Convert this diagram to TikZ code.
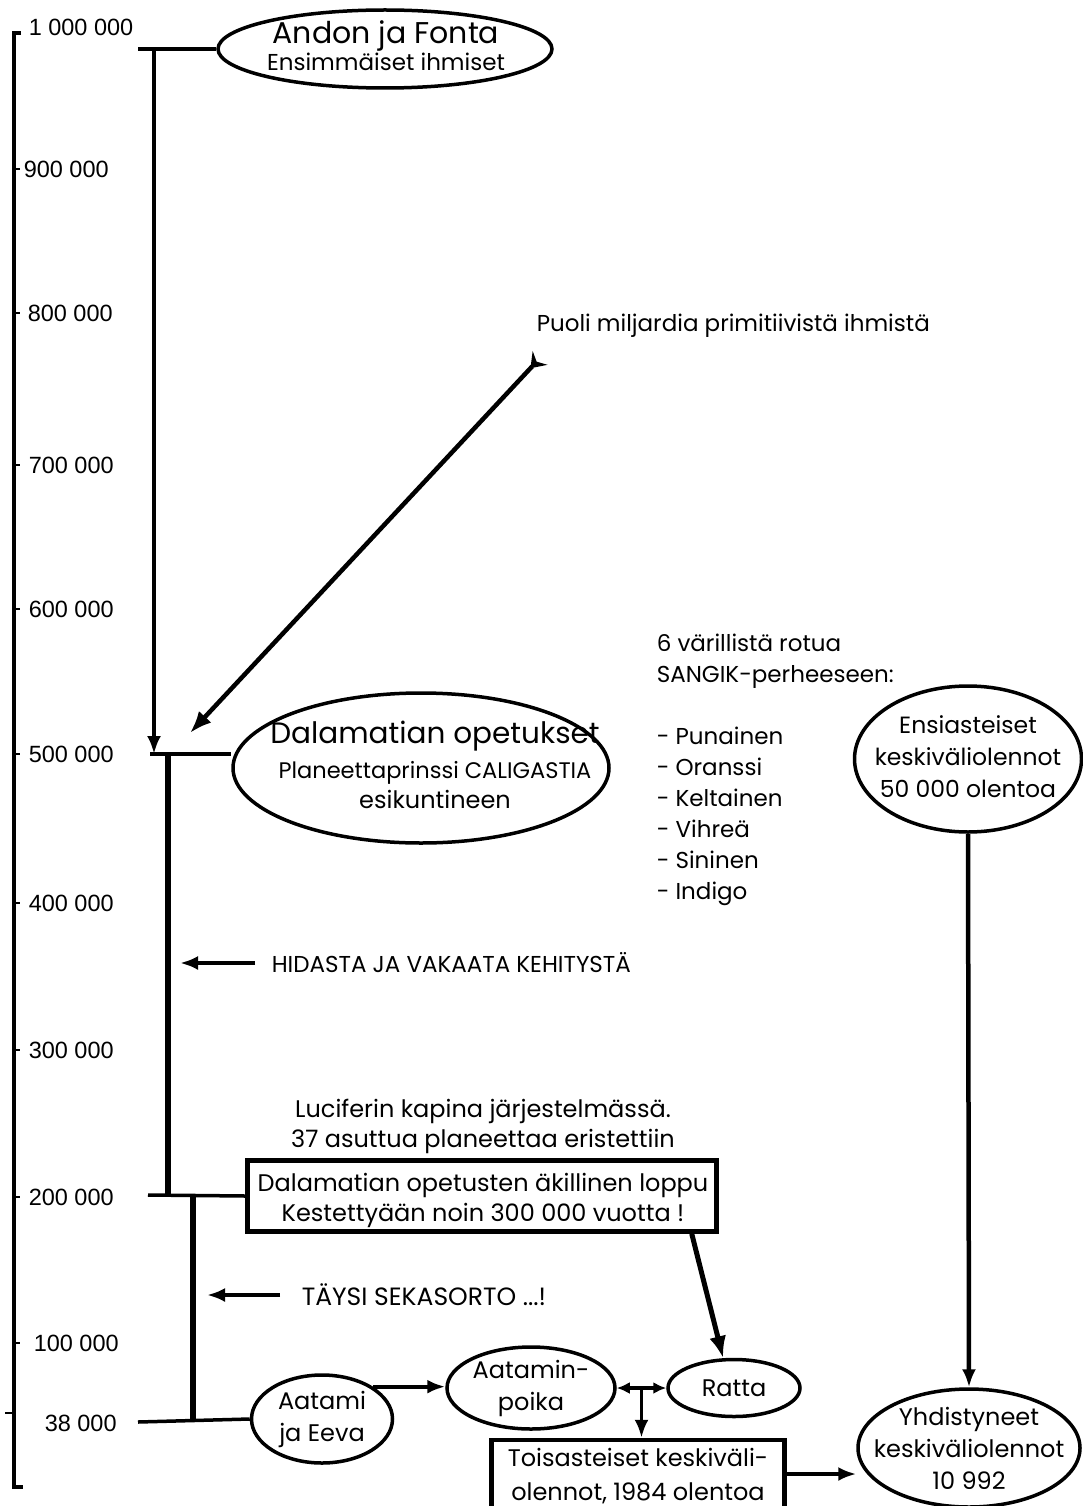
\documentclass[tikz,border=0pt]{standalone}
\usepackage{fontspec}
\setmainfont{Poppins}
\newfontfamily\axisfont{Liberation Sans}
\usetikzlibrary{shapes.geometric}
\usetikzlibrary{arrows.meta}
\tikzstyle{oval} = [ellipse, draw, line width=3.5pt, inner sep=0pt]
\tikzstyle{box} = [rectangle, draw, line width=4.5pt, inner sep=0pt]
\tikzstyle{txt} = [inner sep=0pt, text centered, align=center, font=\fontsize{24}{32}\selectfont]
\tikzstyle{list} = [inner sep=0pt, anchor=west, align=left, font=\fontsize{23}{31}\selectfont]
\tikzstyle{year} = [inner sep=0pt, anchor=west, font=\axisfont\fontsize{23.5}{24}\selectfont]
\tikzstyle{tip} = [-{Latex[length=18pt,width=14pt]}]

\begin{document}
\begin{tikzpicture}[x=1pt, y=-1pt, line width=3.5pt]
    \useasboundingbox (0,0) rectangle (1083,1506);

    % time axis
    \draw[line width=3.5pt] (21,33) -- (14,33) -- (14,1487) -- (23,1487);
    \foreach \y in {169,313,465,609,754,903,1050,1197,1343}
        \draw[line width=1.5pt] (14,\y) -- (20,\y);
    \draw[line width=1.5pt] (5,1413) -- (14,1413);
    \node[year] (y10) at (27,27) {1 000 000};
    \node[year] (y9) at (22,169) {900 000};
    \node[year] (y8) at (26,313) {800 000};
    \node[year] (y7) at (27,465) {700 000};
    \node[year] (y6) at (27,609) {600 000};
    \node[year] (y5) at (27,754) {500 000};
    \node[year] (y4) at (27,903) {400 000};
    \node[year] (y3) at (27,1050) {300 000};
    \node[year] (y2) at (27,1197) {200 000};
    \node[year] (y1) at (32,1343) {100 000};
    \node[year] (y0) at (43,1423) {38 000};

    % nodes
    \node[oval, minimum width=334, minimum height=78] (af) at (385,49) {};
    \node[txt] (aft) at (386,46) {{\fontsize{30}{30}\selectfont Andon ja Fonta}\\[-5pt]{\fontsize{23}{30}\selectfont Ensimmäiset ihmiset}};
    \node[oval, minimum width=376, minimum height=150] (da) at (421,768) {};
    \node[txt] (dat) at (435,765) {{\fontsize{29.5}{32}\selectfont Dalamatian opetukset}\\[3pt]{\fontsize{22.5}{32}\selectfont Planeettaprinssi CALIGASTIA}\\[-2pt]esikuntineen};
    \node[list, anchor=west] (pm) at (535,326) {Puoli miljardia primitiivistä ihmistä};
    \node[list, anchor=north west] (sa) at (655,632) {6 värillistä rotua\\SANGIK-perheeseen:\\[31pt]
        - Punainen\\- Oranssi\\- Keltainen\\- Vihreä\\- Sininen\\- Indigo};
    \node[oval, minimum width=227, minimum height=146] (en) at (968,759) {};
    \node[txt, font=\fontsize{23.5}{32}\selectfont] (ent) at (968,757) {Ensiasteiset\\keskiväliolennot\\50 000 olentoa};
    \node[list] (hk) at (270,963) {HIDASTA JA VAKAATA KEHITYSTÄ};
    \node[txt] (lu) at (483,1126) {Luciferin kapina järjestelmässä.\\[-2pt]37 asuttua planeettaa eristettiin};
    \node[box, minimum width=469, minimum height=71] (dl) at (482,1196) {};
    \node[txt] (dlt) at (483,1200) {Dalamatian opetusten äkillinen loppu\\[-2pt]Kestettyään noin 300 000 vuotta !};
    \node[list, font=\fontsize{25}{31}\selectfont] (ts) at (300,1295) {TÄYSI SEKASORTO ...!};
    \node[oval, minimum width=141, minimum height=88] (ae) at (322,1419) {};
    \node[txt] (aet) at (ae) {Aatami\\ja Eeva};
    \node[oval, minimum width=168, minimum height=82] (ap) at (531,1388) {};
    \node[txt] (apt) at (ap) {Aatamin-\\poika};
    \node[oval, minimum width=132, minimum height=57] (ra) at (734,1388) {};
    \node[txt] (rat) at (ra) {Ratta};
    \node[box, minimum width=293, minimum height=80] (tb) at (638,1480) {};
    \node[txt] (tbt) at (638,1476) {Toisasteiset keskiväli-\\[2pt]olennot, 1984 olentoa};
    \node[oval, minimum width=222, minimum height=118] (yh) at (969,1448) {};
    \node[txt] (yht) at (yh) {Yhdistyneet\\keskiväliolennot\\10 992};

    % timeline
    \coordinate (a1) at (154,49);
    \coordinate (a5) at (154,754);
    \coordinate (b5) at (168,754);
    \coordinate (b2) at (168,1197);
    \coordinate (c2) at (193,1195);
    \coordinate (c0) at (193,1422);
    \draw (138,49) -- (af.west);
    \draw[tip] (a1) -- (a5);
    \draw (150,754) -- (da.west |- a5);
    \draw[line width=6.5pt] (b5) -- (b2);
    \draw (148,1195) -- (dl.west);
    \draw[line width=5.5pt] (c2) -- (c0);
    \draw (138,1422) -- (ae.west);

    % arrows
    \coordinate (pu) at (540,358);
    \coordinate (pe) at (190,733);
    \draw[line width=4.5pt, {Stealth[reversed,length=14pt,width=20pt,inset=5pt]}-{Latex[length=22pt,width=17pt]}] (pu) -- (pe);
    \draw[tip, line width=4pt] ([xshift=-15pt]hk.west) -- (180,963);
    \draw[tip, line width=4pt] ([xshift=-20pt]ts.west) -- (207,1295);
    \draw[-{Latex[length=22pt,width=17pt]}, line width=5pt] ([xshift=-27pt]dl.south east) -- (ra.110);
    \draw[tip, line width=4.5pt] (en.south) -- (yh.north);
    \draw[tip, line width=4pt] (ae.north east) -- (ae.north east -| ap.west);
    \draw[{Latex[length=13pt,width=12pt]}-{Latex[length=13pt,width=12pt]}, line width=3.5pt]
        (ap.east) -- coordinate[pos=0.5] (m) (ra.west);
    \draw[tip, line width=3.5pt] (m) -- (m |- tb.north);
    \draw[tip, line width=4pt] (tb.east |- 0,1474) -- (yh.west |- 0,1474);
\end{tikzpicture}
\end{document}
